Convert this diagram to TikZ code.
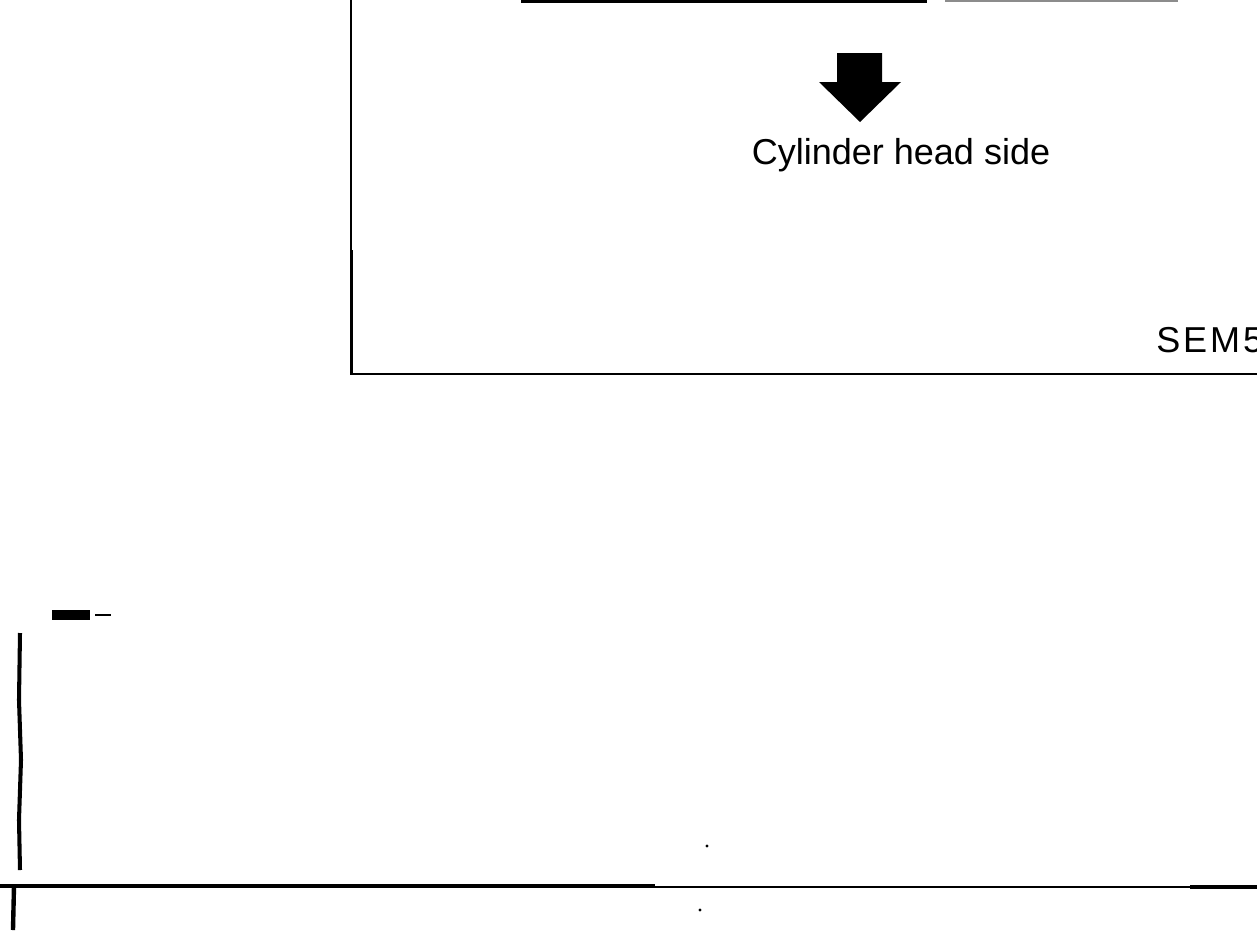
\documentclass[tikz,border=0pt]{standalone}
\usepackage{fontspec}
\setmainfont{Liberation Sans}
\newfontfamily\codefont[LetterSpace=8]{Liberation Sans}
\usetikzlibrary{positioning}

\begin{document}
\begin{tikzpicture}[x=0.02cm, y=-0.02cm,
        frame/.style={line width=1.2pt, black},
        heavy/.style={line width=2.2pt, black},
        faint/.style={line width=0.8pt, black!45},
        caption/.style={font=\fontsize{20.5}{24}\selectfont, inner sep=0pt},
        speck/.style={fill=black}
    ]
        \useasboundingbox (0,0) rectangle (1257,937);

        % upper panel
        \coordinate (corner) at (351,374);
        \draw[line width=0.8pt] (351,0) -- (351,45);
        \draw[frame] (351,45) -- (corner) -- (1262,374);
        \draw[heavy, line width=1.8pt] (351.5,250) -- (351.5,374);
        \draw[heavy] (521,1.5) -- (927,1.5);
        \draw[faint] (945,1) -- (1178,1);

        \fill (837,53) -- (882,53) -- (882,82) -- (901,82) -- (860,122)
            -- (819,82) -- (837,82) -- cycle;

        \node[caption, anchor=base] (headside) at (901,164) {Cylinder head side};
        \node[caption, anchor=base west] (code) at (1156,352) {\codefont SEM5};

        % lower panel
        \fill (52,610) rectangle (90,620);
        \draw[line width=0.7pt] (95,615) -- (111,615);
        \draw[heavy, line width=2.3pt] (20,633) -- (19,700) -- (21,760) -- (19,820) -- (20,870);
        \draw[heavy] (0,886) -- (655,886);
        \draw[frame] (655,887) -- (1257,887);
        \draw[heavy] (1190,887) -- (1257,887);
        \draw[heavy, line width=2.5pt] (14,886) -- (13,930);
        \fill[speck] (707,846) circle (1.6);
        \fill[speck] (700,910) circle (1.6);
    \end{tikzpicture}
\end{document}
